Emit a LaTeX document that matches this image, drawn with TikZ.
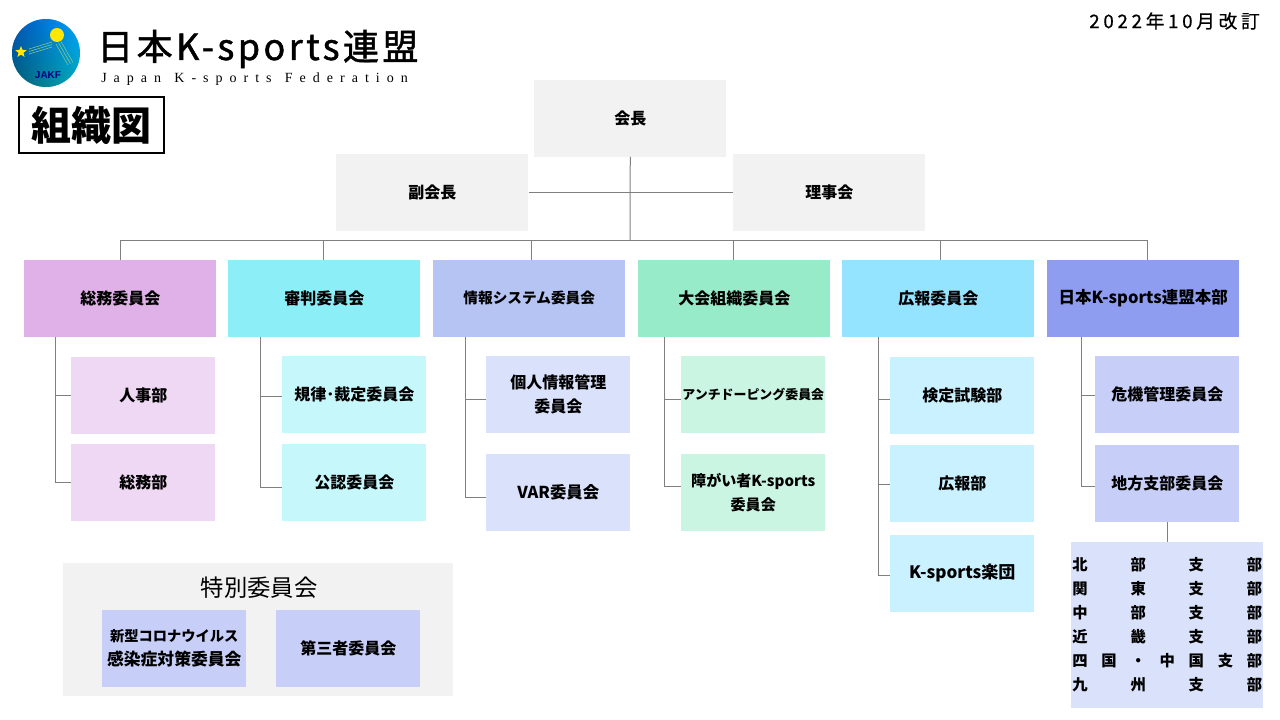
\documentclass[tikz,border=0pt]{standalone}
\usepackage{fontspec}
\usetikzlibrary{calc,shapes.geometric}
\setmainfont{Noto Sans CJK JP}
\newfontfamily\titlefont[LetterSpace=9.5,FakeBold=1.3]{Noto Sans CJK JP}
\newfontfamily\subfont[LetterSpace=50]{Liberation Serif}
\newfontfamily\datefont[LetterSpace=20,FakeBold=0.6]{Noto Sans CJK JP}
\newfontfamily\logofont{Liberation Sans}
\definecolor{grayb}{HTML}{F2F2F2}
\definecolor{lin}{HTML}{7F7F7F}
\definecolor{c1}{HTML}{E0B0E8}\definecolor{d1}{HTML}{EFD8F4}
\definecolor{c2}{HTML}{8CEFF8}\definecolor{d2}{HTML}{C6F7FB}
\definecolor{c3}{HTML}{B6C4F4}\definecolor{d3}{HTML}{DAE1FA}
\definecolor{c4}{HTML}{98EBC8}\definecolor{d4}{HTML}{CBF5E3}
\definecolor{c5}{HTML}{94E3FF}\definecolor{d5}{HTML}{C9F1FF}
\definecolor{c6}{HTML}{8F9DF0}\definecolor{d6}{HTML}{C7CEF8}
\newcommand{\distline}[1]{\hbox to 142.5pt{#1}}
\newcommand{\fs}[1]{\fontsize{#1}{18}\selectfont\bfseries}
\tikzset{
  orgbox/.style={anchor=north west,inner sep=0pt,align=center,text=black,font=\fs{12}},
  bigbox/.style={orgbox,minimum width=144pt,minimum height=57.2pt},
  smallbox/.style={orgbox,minimum width=108pt,minimum height=57.2pt},
  link/.style={draw=lin,line width=0.75pt},
  streak/.style={draw=white!70!green!80!black,line width=0.4pt},
}
\newcommand{\elbow}[4]{\draw[link] ($(#1.south west)+(#2,0)$) |- ($(#3.west)+(0,#4)$);}
\begin{document}
\begin{tikzpicture}[x=0.75pt,y=-0.75pt]
\useasboundingbox (0,0) rectangle (1280,720);
% logo
\shade[left color=blue!45!black!90!cyan,right color=cyan!65!blue] (46,53) circle (34);
\shade[top color=cyan!60!blue,bottom color=green!45!cyan!70!black,opacity=0.45] (46,53) circle (34);
\fill[yellow!90!orange] (57,35) circle (7);
\node[fill=yellow!95!orange,star,star points=5,star point ratio=2.3,inner sep=0pt,minimum size=9pt] (logostar) at (21,52) {};
\foreach \d in {0,2.5,5}{
  \draw[streak] (29,{49+\d}) -- (52,{42+\d});
  \draw[streak] ({56+\d},{44-\d/2}) -- ({68+\d},{65-\d/2});
}
\node[inner sep=0pt,text=blue!50!black,font=\fontsize{7.5}{9}\selectfont\bfseries\logofont] (logotext) at (48,75) {JAKF};
% headings
\node[anchor=west,inner sep=0pt,font=\fontsize{27}{30}\selectfont\titlefont] (brand) at (97,49) {日本K-sports連盟};
\node[anchor=west,inner sep=0pt,font=\fontsize{10.5}{12}\selectfont\subfont] (brandsub) at (101,79) {Japan\hspace{0.95em}K-sports\hspace{0.95em}Federation};
\node[anchor=east,inner sep=0pt,font=\fontsize{14}{15}\selectfont\datefont] (revdate) at (1260,21) {2022年10月改訂};
\node[draw=black,line width=1.5pt,minimum width=109pt,minimum height=42pt,inner sep=0pt,anchor=north west,
  font=\fontsize{30}{34}\selectfont\bfseries] (zu) at (18,96) {組織図};
% executives
\node[bigbox,fill=grayb] (kaicho) at (534,80) {会長};
\node[bigbox,fill=grayb] (fuku) at (336,154) {副会長};
\node[bigbox,fill=grayb] (riji) at (733,154) {理事会};
% committees
\node[bigbox,fill=c1] (t1) at (24,260) {総務委員会};
\node[bigbox,fill=c2] (t2) at (228,260) {審判委員会};
\node[bigbox,fill=c3,font=\fs{11}] (t3) at (433,260) {情報システム委員会};
\node[bigbox,fill=c4] (t4) at (638,260) {大会組織委員会};
\node[bigbox,fill=c5] (t5) at (842,260) {広報委員会};
\node[bigbox,fill=c6,font=\fs{12.4}] (t6) at (1047,260) {日本K-sports連盟本部};
% children
\node[smallbox,fill=d1] (a1) at (71,357) {人事部};
\node[smallbox,fill=d1] (a2) at (71,444) {総務部};
\node[smallbox,fill=d2] (b1) at (282,356) {規律･裁定委員会};
\node[smallbox,fill=d2] (b2) at (282,444) {公認委員会};
\node[smallbox,fill=d3] (c1n) at (486,356) {個人情報管理\\委員会};
\node[smallbox,fill=d3,font=\fs{12.3}] (c2n) at (486,454) {VAR委員会};
\node[smallbox,fill=d4,font=\fs{9.7}] (d1n) at (681,356) {アンチドーピング委員会};
\node[smallbox,fill=d4,font=\fs{11.3}] (d2n) at (681,454) {障がい者K-sports\\委員会};
\node[smallbox,fill=d5] (e1) at (890,357) {検定試験部};
\node[smallbox,fill=d5] (e2) at (890,445) {広報部};
\node[smallbox,fill=d5,font=\fs{12.8}] (e3) at (890,535) {K-sports楽団};
\node[smallbox,fill=d6] (f1) at (1095,356) {危機管理委員会};
\node[smallbox,fill=d6] (f2) at (1095,445) {地方支部委員会};
% branches
\node[orgbox,fill=d3,minimum width=144pt,minimum height=124pt,font=\fs{11.5},align=left] (shibu) at (1071,542) {%
  \distline{北\hfill 部\hfill 支\hfill 部}\\
  \distline{関\hfill 東\hfill 支\hfill 部}\\
  \distline{中\hfill 部\hfill 支\hfill 部}\\
  \distline{近\hfill 畿\hfill 支\hfill 部}\\
  \distline{四\hfill 国\hfill ・\hfill 中\hfill 国\hfill 支\hfill 部}\\
  \distline{九\hfill 州\hfill 支\hfill 部}};
% special committee
\node[anchor=north west,inner sep=0pt,fill=grayb,minimum width=292.5pt,minimum height=99.75pt] (special) at (63,563) {};
\node[inner sep=0pt,font=\fontsize{17.5}{20}\selectfont] (specialt) at (259,588) {特別委員会};
\node[smallbox,fill=d6] (s1) at (102,610) {{\fs{10.7}新型コロナウイルス}\\{\fs{12.6}感染症対策委員会}};
\node[smallbox,fill=d6] (s2) at (276,610) {第三者委員会};
% connectors
\coordinate (bus) at (630,240.5);
\draw[link] (kaicho.south) -- (bus);
\draw[link] (fuku.east) -- (riji.west);
\draw[link] (bus) -| ($(t1.north)$);
\draw[link] (bus) -| ($(t2.north)+(-1,0)$);
\draw[link] (bus) -| ($(t3.north)+(2,0)$);
\draw[link] (bus) -| ($(t4.north)+(-1,0)$);
\draw[link] (bus) -| ($(t5.north)+(2,0)$);
\draw[link] (bus) -| ($(t6.north)+(4,0)$);
\elbow{t1}{31}{a1}{0}
\elbow{t1}{31}{a2}{0}
\elbow{t2}{32}{b1}{2}
\elbow{t2}{32}{b2}{5}
\elbow{t3}{32}{c1n}{5}
\elbow{t3}{32}{c2n}{5}
\elbow{t4}{26}{d1n}{5}
\elbow{t4}{26}{d2n}{-6}
\elbow{t5}{36}{e1}{4}
\elbow{t5}{36}{e2}{1}
\elbow{t5}{36}{e3}{2}
\elbow{t6}{34}{f1}{1}
\elbow{t6}{34}{f2}{3}
\draw[link] (f2.south -| shibu.north) -- (shibu.north);
\end{tikzpicture}
\end{document}
